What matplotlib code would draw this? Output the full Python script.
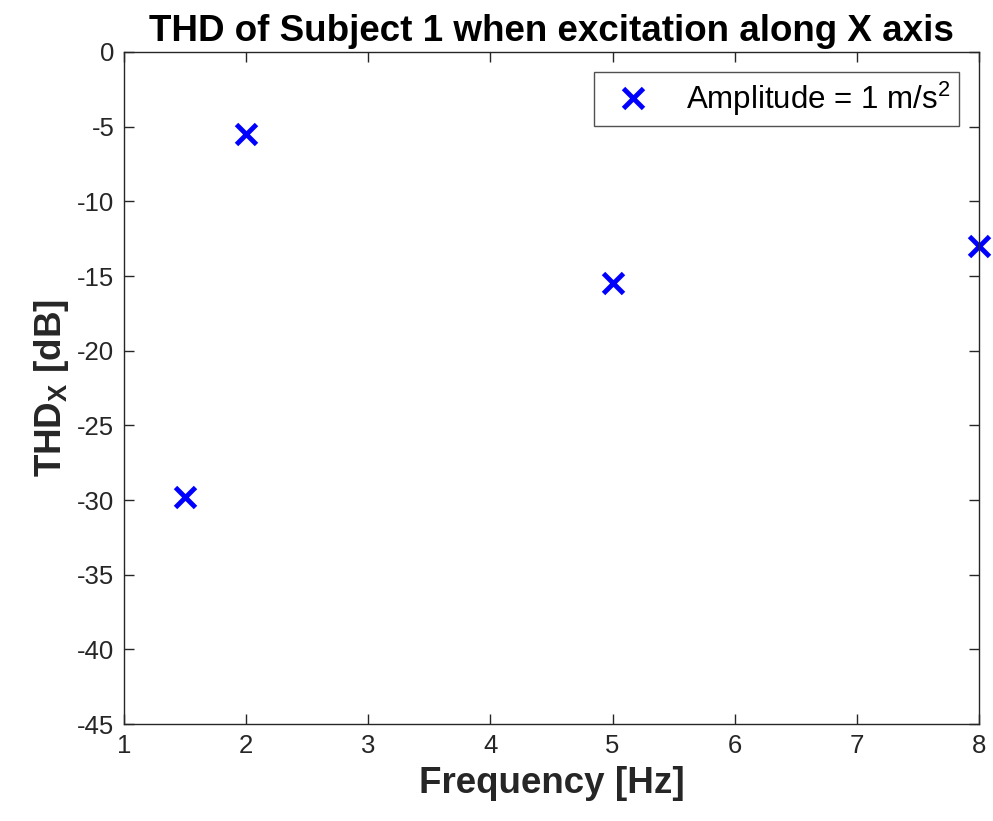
import matplotlib
matplotlib.use("Agg")
import matplotlib.pyplot as plt

# data
freq = [1.5, 2, 5, 8]
thd_x = [-29.8, -5.5, -15.5, -13.0]
xticks = [1, 2, 3, 4, 5, 6, 7, 8]
yticks = [0, -5, -10, -15, -20, -25, -30, -35, -40, -45]

plt.rcParams['font.family'] = ['Liberation Sans', 'DejaVu Sans']
plt.rcParams['mathtext.fontset'] = 'custom'
plt.rcParams['mathtext.rm'] = 'Liberation Sans'
plt.rcParams['mathtext.bf'] = 'Liberation Sans:bold'
plt.rcParams['axes.unicode_minus'] = False

grey = '#262626'

fig = plt.figure(figsize=(9.93, 8.21), dpi=100)
ax = fig.add_axes([124/993, 1 - 724/821, (979 - 124)/993, (724 - 52)/821])

ax.plot(freq, thd_x, 'x', color='#0000ff', markersize=15, markeredgewidth=3.5,
        linestyle='none', label='Amplitude = 1 m/s$^2$', clip_on=False)

ax.set_xlim(1, 8)
ax.set_ylim(-45, 0)
ax.set_xticks(xticks)
ax.set_yticks(yticks)
ax.tick_params(direction='in', top=True, right=True, length=7, width=1,
               colors=grey, labelsize=18.5, pad=7)
for s in ax.spines.values():
    s.set_color(grey)
    s.set_linewidth(1)

ax.set_title('THD of Subject 1 when excitation along X axis', fontsize=26.5,
             fontweight='bold', pad=8)
ax.set_xlabel('Frequency [Hz]', fontsize=26.5, fontweight='bold', color=grey, labelpad=6)
ax.set_ylabel(r'THD$_\mathbf{X}$ [dB]', fontsize=26.5, fontweight='bold', color=grey, labelpad=4)

leg = ax.legend(loc='upper right', fontsize=22.5, frameon=True, fancybox=False,
                edgecolor=grey, borderaxespad=0.65, handletextpad=0.7,
                handlelength=2.0, borderpad=0.25)
leg.get_frame().set_linewidth(1)

fig.savefig('out.png', dpi=100)
